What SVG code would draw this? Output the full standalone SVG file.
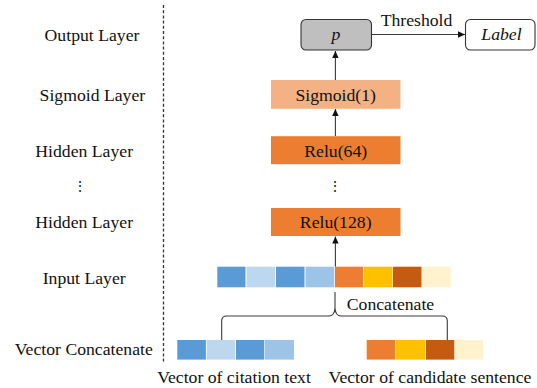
<svg xmlns="http://www.w3.org/2000/svg" width="537" height="388" viewBox="0 0 537 388">
<defs>
<style>
text{font-family:"Liberation Serif","Times New Roman",serif;font-size:17.7px;fill:#111}
.c{text-anchor:middle}
.dots{font-size:14px}
.ln{stroke:#3a3a3a;stroke-width:1.1;fill:none}
.relu{fill:#ED7D31}
.b1{fill:#5B9BD5}.b2{fill:#BDD7EE}.b3{fill:#9DC3E6}
.o1{fill:#ED7D31}.o2{fill:#FFC000}.o3{fill:#C55A11}.o4{fill:#FFF2CC}
</style>
<marker id="ah" markerWidth="8" markerHeight="8" refX="7" refY="4" orient="auto" markerUnits="userSpaceOnUse">
<path d="M0,0.8 L7,4 L0,7.2 Z" fill="#111"/>
</marker>
</defs>
<rect width="537" height="388" fill="#fff"/>
<line x1="163.5" y1="5" x2="163.5" y2="362" stroke="#333" stroke-width="1.3" stroke-dasharray="3,2.2"/>
<g id="layer-labels">
<text class="c" x="92" y="41">Output Layer</text>
<text class="c" x="92.4" y="101">Sigmoid Layer</text>
<text class="c" x="84.2" y="157">Hidden Layer</text>
<text class="c dots" x="79.7" y="191">⋮</text>
<text class="c" x="84.2" y="227.5">Hidden Layer</text>
<text class="c" x="84.2" y="284">Input Layer</text>
<text class="c" x="83.8" y="355">Vector Concatenate</text>
</g>
<g id="connectors">
<line class="ln" x1="335.4" y1="80" x2="335.4" y2="51" marker-end="url(#ah)"/>
<line class="ln" x1="335.4" y1="136" x2="335.4" y2="109" marker-end="url(#ah)"/>
<line class="ln" x1="335.4" y1="266.7" x2="335.4" y2="236.5" marker-end="url(#ah)"/>
<line class="ln" x1="371.5" y1="34.5" x2="465" y2="34.5" marker-end="url(#ah)"/>
<text class="c" x="416.5" y="26">Threshold</text>
<path class="ln" d="M221.7,340 L221.7,321 Q221.7,316 226.7,316 L329,316 Q334.5,316 335,308 L335,292 M335,308 Q335.5,316 341,316 L442.3,316 Q447.3,316 447.3,321 L447.3,340"/>
<text class="c" x="390.5" y="310">Concatenate</text>
<text class="c dots" x="335.4" y="191">⋮</text>
</g>
<g id="node-p">
<rect x="301" y="19.5" width="70.5" height="30.5" rx="5" fill="#BFBFBF" stroke="#333" stroke-width="1.1"/>
<text class="c" x="336" y="40" font-style="italic">p</text>
</g>
<g id="node-label">
<rect x="465.5" y="19.5" width="69.5" height="30.5" rx="5" fill="#fff" stroke="#333" stroke-width="1.1"/>
<text class="c" x="501.5" y="40" font-style="italic">Label</text>
</g>
<g id="node-sigmoid">
<rect x="271" y="80" width="129.5" height="28.8" fill="#F4B183"/>
<text class="c" x="335.7" y="100.5">Sigmoid(1)</text>
</g>
<g id="node-relu64">
<rect class="relu" x="271" y="136.2" width="129.5" height="28"/>
<text class="c" x="335.7" y="156.5">Relu(64)</text>
</g>
<g id="node-relu128">
<rect class="relu" x="271" y="208" width="129.5" height="28"/>
<text class="c" x="335.7" y="228">Relu(128)</text>
</g>
<g id="node-input">
<rect class="b1" x="217.3" y="266.7" width="28.2" height="20.6"/>
<rect class="b2" x="246.5" y="266.7" width="28.5" height="20.6"/>
<rect class="b1" x="276" y="266.7" width="28.5" height="20.6"/>
<rect class="b3" x="305.5" y="266.7" width="28.8" height="20.6"/>
<rect class="o1" x="335" y="266.7" width="28.2" height="20.6"/>
<rect class="o2" x="364" y="266.7" width="28.5" height="20.6"/>
<rect class="o3" x="393" y="266.7" width="28.5" height="20.6"/>
<rect class="o4" x="422" y="266.7" width="28.7" height="20.6"/>
</g>
<g id="node-citation-vector">
<rect class="b1" x="177.3" y="340" width="28.6" height="19.6"/>
<rect class="b2" x="206.7" y="340" width="28.5" height="19.6"/>
<rect class="b1" x="236" y="340" width="28.3" height="19.6"/>
<rect class="b3" x="265" y="340" width="29" height="19.6"/>
<text class="c" x="234" y="383">Vector of citation text</text>
</g>
<g id="node-candidate-vector">
<rect class="o1" x="366.7" y="340" width="28.6" height="19.6"/>
<rect class="o2" x="396" y="340" width="29.3" height="19.6"/>
<rect class="o3" x="426" y="340" width="28.3" height="19.6"/>
<rect class="o4" x="455" y="340" width="28.2" height="19.6"/>
<text class="c" x="430" y="383">Vector of candidate sentence</text>
</g>
</svg>
